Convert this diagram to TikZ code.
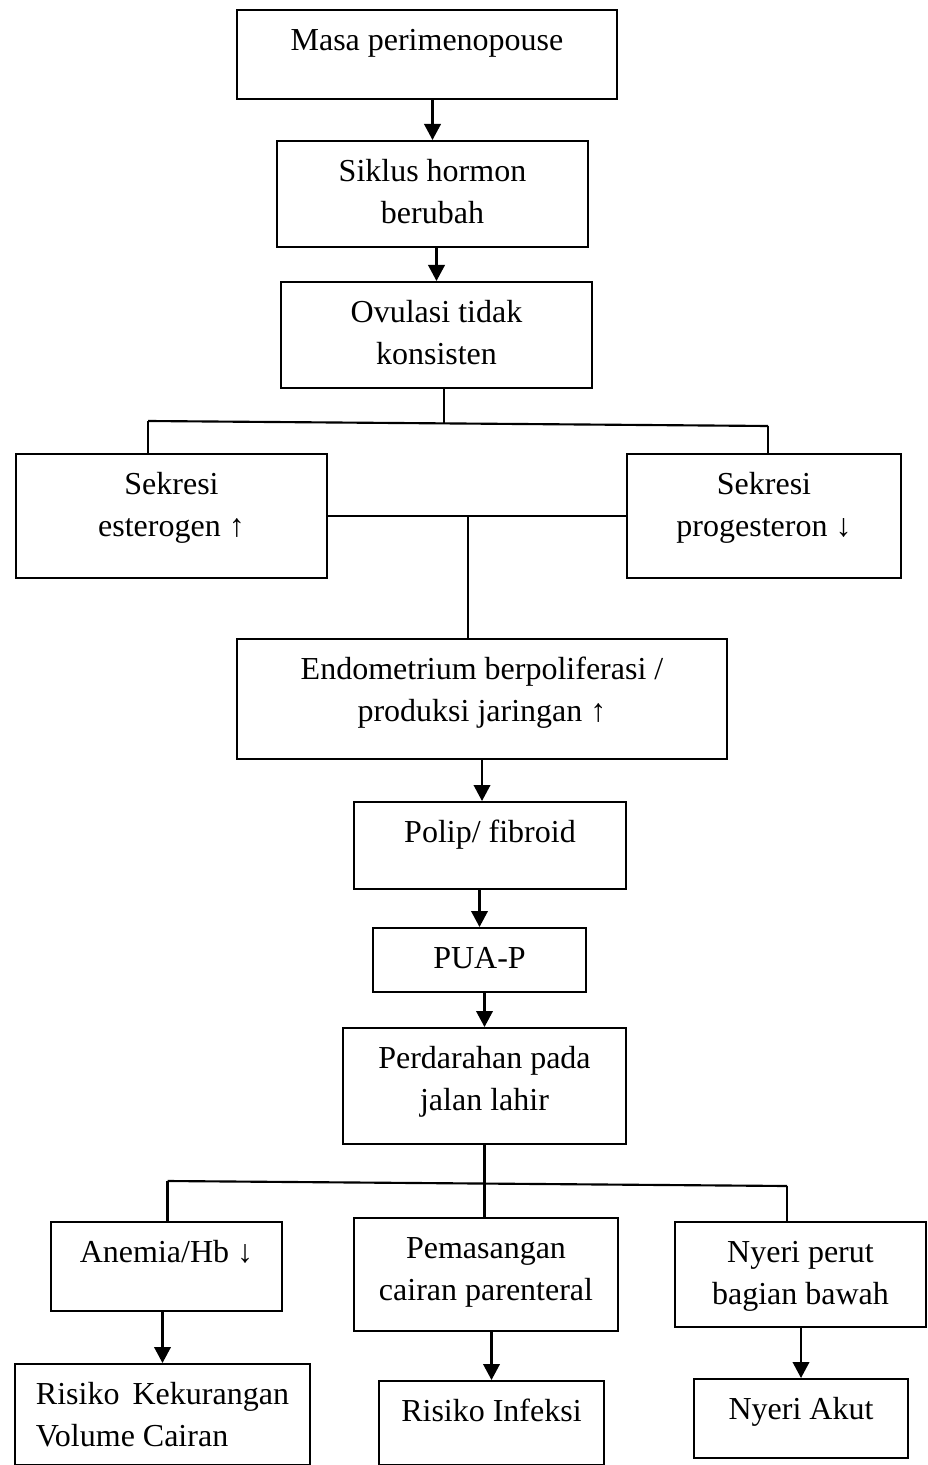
\documentclass[tikz,border=0pt,12pt]{standalone}
\usepackage{fontspec}
\setmainfont{Liberation Serif}
\usepackage{tikz}
\usetikzlibrary{arrows.meta}

\begin{document}
\begin{tikzpicture}[->,>={Triangle[length=6pt,width=6.2pt]},x=0.375pt,y=-0.375pt,
                    thick,font=\fontsize{12}{15.75}\selectfont]
  \tikzstyle{box}=[draw,-,anchor=north,align=center,inner sep=0pt,text height=15pt,
                   execute at begin node={\spaceskip=0.25em\xspaceskip=0.25em\relax}]
  \useasboundingbox (0,0) rectangle (927,1465);

  \node[box,text width=142.5pt,text depth=18.4pt]  (masa)    at (427,9)      {Masa perimenopouse};
  \node[box,text width=116.6pt,text depth=24.75pt] (siklus)  at (432.5,140)  {Siklus hormon\\berubah};
  \node[box,text width=116.6pt,text depth=24.75pt] (ovulasi) at (436.5,281)  {Ovulasi tidak\\konsisten};

  \node[box,text width=116.6pt,text depth=31.5pt]  (est)     at (171.5,453)  {Sekresi\\esterogen ↑};
  \node[box,text width=102.75pt,text depth=31.5pt] (prog)    at (764,453)    {Sekresi\\progesteron ↓};

  \node[box,text width=183.75pt,text depth=30pt]   (endo)    at (482,638)    {Endometrium berpoliferasi /\\produksi jaringan ↑};
  \node[box,text width=102pt,text depth=17.6pt]    (polip)   at (490,801)    {Polip/ fibroid};
  \node[box,text width=79.9pt,text depth=9pt]      (pua)     at (479.5,927)  {PUA-P};
  \node[box,text width=106.1pt,text depth=28.5pt]  (darah)   at (484.5,1027) {Perdarahan pada\\jalan lahir};

  \node[box,text width=86.6pt,text depth=18.4pt]   (anemia)  at (166.5,1221) {Anemia/Hb ↓};
  \node[box,text width=99pt,text depth=27.4pt]     (infus)   at (486,1217)   {Pemasangan\\cairan parenteral};
  \node[box,text width=94.1pt,text depth=24.4pt]   (nyeri)   at (800.5,1221) {Nyeri perut\\bagian bawah};

  \node[box,align=left,inner xsep=7.9pt,text width=94.9pt,text depth=22.9pt]
                                                   (rkc)     at (162.5,1363) {Risiko\hfill Kekurangan\\Volume Cairan};
  \node[box,text width=84.4pt,text depth=16.5pt]   (rinf)    at (491.5,1380) {Risiko Infeksi};
  \node[box,text width=80.25pt,text depth=14.6pt]  (akut)    at (801,1378)   {Nyeri Akut};

  % junctions of the branching lines
  \coordinate (ov)  at (443.6,423);
  \coordinate (ovl) at (148,421);
  \coordinate (ovr) at (768,426);
  \coordinate (sek) at (468,515);
  \coordinate (drl) at (167.5,1181);
  \coordinate (drr) at (787,1186);

  \draw (masa.south -| siklus.north) -- (siklus.north);
  \draw (siklus.south -| ovulasi.north) -- (ovulasi.north);

  \draw[-] (ovulasi.south -| ov) -- (ov);
  \draw[-] (ovl) -- (ovr);
  \draw[-] (ovl) -- (ovl |- est.north);
  \draw[-] (ovr) -- (ovr |- prog.north);

  \draw[-] (est.east) -- (prog.west);
  \draw[-] (sek) -- (sek |- endo.north);

  \draw (endo.south) -- (endo.south |- polip.north);
  \draw (pua.north |- polip.south) -- (pua.north);
  \draw (darah.north |- pua.south) -- (darah.north);

  \draw[-] (darah.south) -- (darah.south |- infus.north);
  \draw[-] (drl) -- (drr);
  \draw[-] (drl) -- (drl |- anemia.north);
  \draw[-] (drr) -- (drr |- nyeri.north);

  \draw (rkc.north |- anemia.south) -- (rkc.north);
  \draw (rinf.north |- infus.south) -- (rinf.north);
  \draw (akut.north |- nyeri.south) -- (akut.north);
\end{tikzpicture}
\end{document}
